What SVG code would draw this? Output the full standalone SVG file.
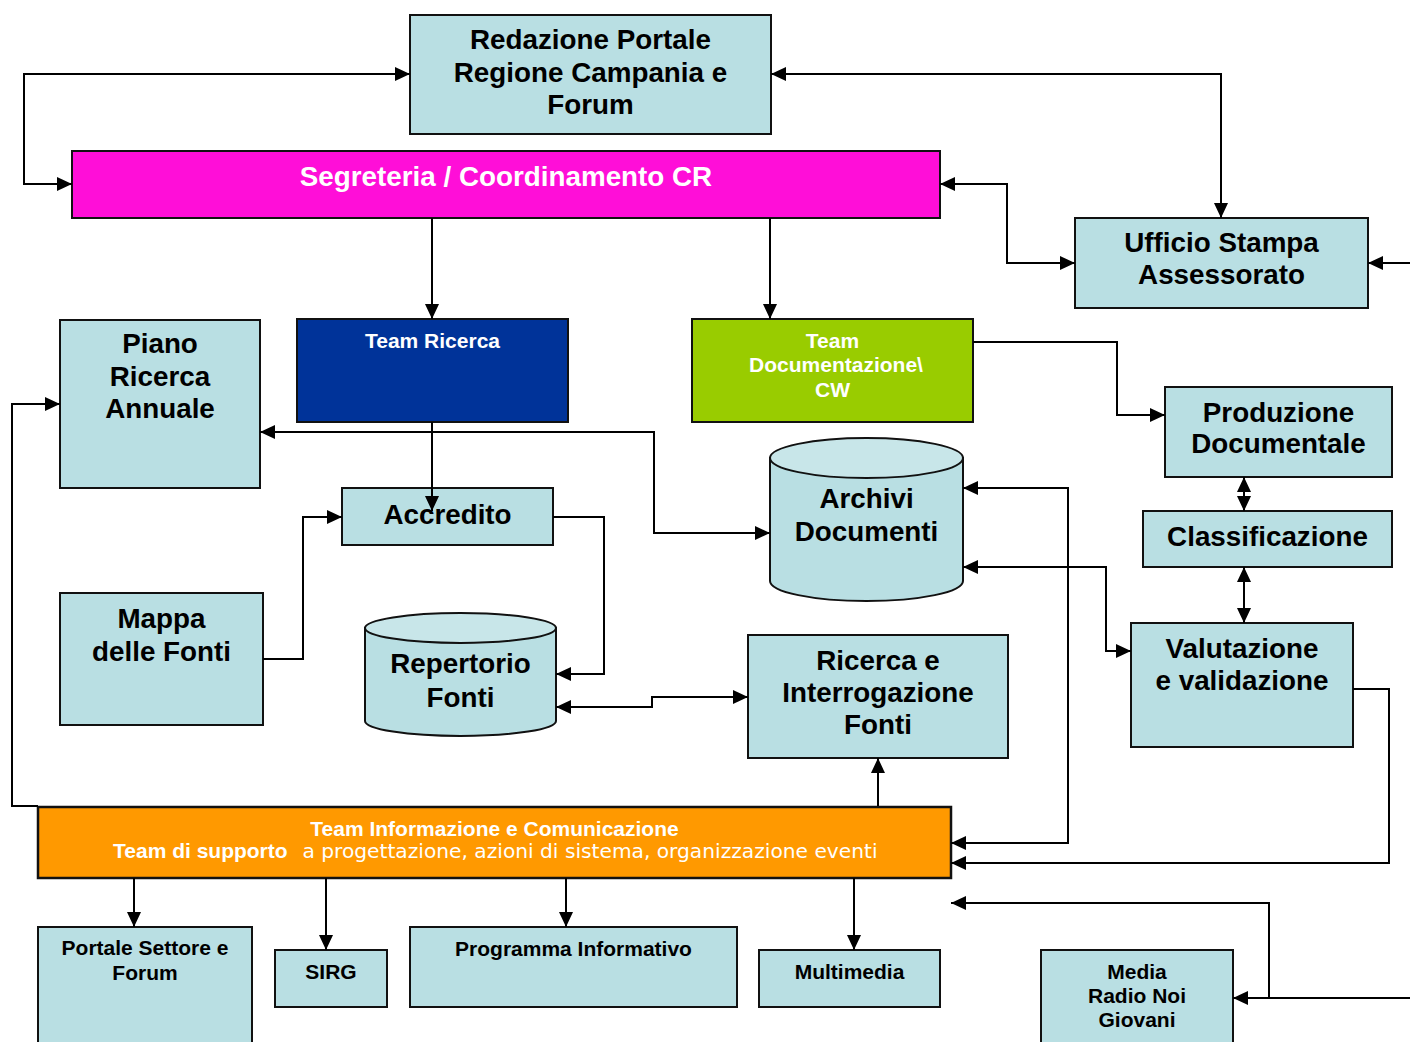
<svg xmlns="http://www.w3.org/2000/svg" width="1410" height="1042" viewBox="0 0 1410 1042">
<style>
.box{fill:#B9DFE3;stroke:#111;stroke-width:2}
.cyltop{fill:#C8E6E9;stroke:#111;stroke-width:2}
.t{font-family:"Liberation Sans",Arial,sans-serif;font-weight:bold;font-size:27.8px;fill:#000;text-anchor:middle}
.s{font-family:"Liberation Sans",Arial,sans-serif;font-weight:bold;font-size:21px;fill:#000;text-anchor:middle}
.w{fill:#fff}
.c path{fill:none;stroke:#000;stroke-width:2}
.e{marker-end:url(#ah)}
.b{marker-start:url(#ah);marker-end:url(#ah)}
</style>
<defs>
<marker id="ah" markerUnits="userSpaceOnUse" markerWidth="15" markerHeight="14" refX="15" refY="7" orient="auto-start-reverse">
<path d="M0,0 L15,7 L0,14 z" fill="#000"/>
</marker>
</defs>
<rect width="1410" height="1042" fill="#fff"/>

<g id="redazione">
<rect class="box" x="410" y="15" width="361" height="119"/>
<text class="t" x="590.5" y="49">Redazione Portale</text>
<text class="t" x="590.5" y="81.5">Regione Campania e</text>
<text class="t" x="590.5" y="114">Forum</text>
</g>
<g id="segreteria">
<rect x="72" y="151" width="868" height="67" fill="#FF0ED8" stroke="#111" stroke-width="2"/>
<text class="t w" x="506" y="186">Segreteria / Coordinamento CR</text>
</g>
<g id="ufficio">
<rect class="box" x="1075" y="218" width="293" height="90"/>
<text class="t" x="1221.5" y="252">Ufficio Stampa</text>
<text class="t" x="1221.5" y="284">Assessorato</text>
</g>
<g id="piano">
<rect class="box" x="60" y="320" width="200" height="168"/>
<text class="t" x="160" y="353">Piano</text>
<text class="t" x="160" y="386">Ricerca</text>
<text class="t" x="160" y="418">Annuale</text>
</g>
<g id="teamricerca">
<rect x="297" y="319" width="271" height="103" fill="#003399" stroke="#111" stroke-width="2"/>
<text class="s w" x="432.5" y="348">Team Ricerca</text>
</g>
<g id="teamdoc">
<rect x="692" y="319" width="281" height="103" fill="#99CC00" stroke="#111" stroke-width="2"/>
<text class="s w" x="832.5" y="348">Team</text>
<text class="s w" x="836" y="372">Documentazione\</text>
<text class="s w" x="832.5" y="397">CW</text>
</g>
<g id="produzione">
<rect class="box" x="1165" y="387" width="227" height="90"/>
<text class="t" x="1278.5" y="422">Produzione</text>
<text class="t" x="1278.5" y="453">Documentale</text>
</g>
<g id="classificazione">
<rect class="box" x="1143" y="511" width="249" height="56"/>
<text class="t" x="1267.5" y="546">Classificazione</text>
</g>
<g id="valutazione">
<rect class="box" x="1131" y="623" width="222" height="124"/>
<text class="t" x="1242" y="658">Valutazione</text>
<text class="t" x="1242" y="690">e validazione</text>
</g>
<g id="archivi">
<path class="box" d="M770,458 V581 A96.5,20 0 0,0 963,581 V458 Z"/>
<ellipse class="cyltop" cx="866.5" cy="458" rx="96.5" ry="20"/>
<text class="t" x="866.5" y="508">Archivi</text>
<text class="t" x="866.5" y="541">Documenti</text>
</g>
<g id="accredito">
<rect class="box" x="342" y="488" width="211" height="57"/>
<text class="t" x="447.5" y="524">Accredito</text>
</g>
<g id="mappa">
<rect class="box" x="60" y="593" width="203" height="132"/>
<text class="t" x="161.5" y="628">Mappa</text>
<text class="t" x="161.5" y="661">delle Fonti</text>
</g>
<g id="repertorio">
<path class="box" d="M365,628 V721 A95.5,15 0 0,0 556,721 V628 Z"/>
<ellipse class="cyltop" cx="460.5" cy="628" rx="95.5" ry="15"/>
<text class="t" x="460.5" y="673">Repertorio</text>
<text class="t" x="460.5" y="707">Fonti</text>
</g>
<g id="ricerca">
<rect class="box" x="748" y="635" width="260" height="123"/>
<text class="t" x="878" y="670">Ricerca e</text>
<text class="t" x="878" y="702">Interrogazione</text>
<text class="t" x="878" y="734">Fonti</text>
</g>
<g id="teaminfo">
<rect x="38" y="807" width="913" height="71" fill="#FF9900" stroke="#111" stroke-width="2.5"/>
<text class="s w" x="494.5" y="836">Team Informazione e Comunicazione</text>
<text x="113" y="858" fill="#fff" style="white-space:pre"><tspan font-family="Liberation Sans, Arial, sans-serif" font-weight="bold" font-size="21">Team di supporto</tspan><tspan font-family="DejaVu Sans, Verdana, sans-serif" font-size="20.2" dx="2">  a progettazione, azioni di sistema, organizzazione eventi</tspan></text>
</g>
<g id="portale">
<rect class="box" x="38" y="927" width="214" height="125"/>
<text class="s" x="145" y="955">Portale Settore e</text>
<text class="s" x="145" y="980">Forum</text>
</g>
<g id="sirg">
<rect class="box" x="275" y="950" width="112" height="57"/>
<text class="s" x="331" y="979">SIRG</text>
</g>
<g id="programma">
<rect class="box" x="410" y="927" width="327" height="80"/>
<text class="s" x="573.5" y="956">Programma Informativo</text>
</g>
<g id="multimedia">
<rect class="box" x="759" y="950" width="181" height="57"/>
<text class="s" x="849.5" y="979">Multimedia</text>
</g>
<g id="media">
<rect class="box" x="1041" y="950" width="192" height="100"/>
<text class="s" x="1137" y="979">Media</text>
<text class="s" x="1137" y="1003">Radio Noi</text>
<text class="s" x="1137" y="1027">Giovani</text>
</g>

<g id="connectors" class="c">
<path class="b" d="M410,74 H24 V184 H72"/>
<path class="b" d="M771,74 H1221 V218"/>
<path class="b" d="M940,184 H1007 V263 H1075"/>
<path class="e" d="M1410,263 H1368"/>
<path class="e" d="M432,218 V319"/>
<path class="e" d="M770,218 V319"/>
<path class="e" d="M973,342 H1117 V415 H1165"/>
<path class="b" d="M1244,477 V511"/>
<path class="b" d="M1244,567 V623"/>
<path class="e" d="M1353,689 H1389 V863 H951"/>
<path class="e" d="M432,422 V511"/>
<path class="b" d="M260,432 H654 V533 H770"/>
<path class="e" d="M263,659 H303 V517 H342"/>
<path class="e" d="M553,517 H604 V674 H556"/>
<path class="b" d="M556,707 H652 V697 H748"/>
<path class="e" d="M878,806 V758"/>
<path class="b" d="M963,488 H1068 V843 H951"/>
<path class="b" d="M963,567 H1106 V651 H1131"/>
<path class="e" d="M38,806 H12 V404 H60"/>
<path class="e" d="M134,878 V927"/>
<path class="e" d="M326,878 V950"/>
<path class="e" d="M566,878 V927"/>
<path class="e" d="M854,878 V950"/>
<path class="e" d="M1410,998 H1233"/>
<path class="e" d="M1269,998 V903 H951"/>
</g>
</svg>
